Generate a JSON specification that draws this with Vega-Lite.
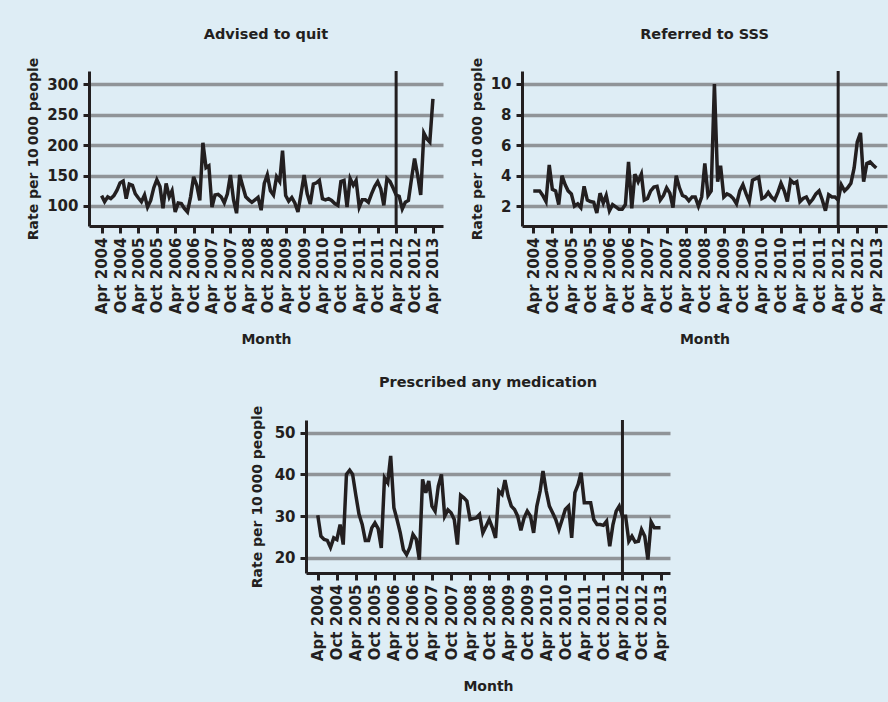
{
  "$schema": "https://vega.github.io/schema/vega-lite/v6.json",
  "background": "#deedf5",
  "padding": {"left": 26, "top": 26, "right": 1, "bottom": 12},
  "config": {
    "view": {"stroke": null},
    "font": "DejaVu Sans",
    "title": {"font": "DejaVu Sans", "fontSize": 14.5, "fontWeight": "bold", "color": "#231f20", "anchor": "middle", "frame": "group", "offset": 15},
    "axis": {
      "domainColor": "#231f20", "domainWidth": 3, "tickColor": "#231f20", "tickWidth": 3,
      "labelFont": "DejaVu Sans", "labelFontWeight": "bold", "labelFontSize": 15, "labelColor": "#231f20",
      "titleFont": "DejaVu Sans", "titleFontWeight": "bold", "titleFontSize": 14, "titleColor": "#231f20",
      "labelFlush": false, "labelOverlap": false
    },
    "axisX": {"grid": false, "labelAngle": -90, "tickSize": 7, "labelPadding": 4, "titlePadding": 19, "labelOverlap": false, "tickCount": 40},
    "axisY": {"grid": true, "gridColor": "#909498", "gridWidth": 3.5, "tickSize": 6, "labelPadding": 5, "titlePadding": 6}
  },
  "datasets": {
    "series": [
      {"date": "2004-04-01", "quit": 117, "sss": 3.0, "med": 30.2},
      {"date": "2004-05-01", "quit": 107, "sss": 3.0, "med": 25.2},
      {"date": "2004-06-01", "quit": 115, "sss": 3.0, "med": 24.4},
      {"date": "2004-07-01", "quit": 112, "sss": 2.7, "med": 24.2},
      {"date": "2004-08-01", "quit": 117, "sss": 2.3, "med": 22.5},
      {"date": "2004-09-01", "quit": 126, "sss": 4.7, "med": 24.8},
      {"date": "2004-10-01", "quit": 138, "sss": 3.1, "med": 24.4},
      {"date": "2004-11-01", "quit": 141, "sss": 3.0, "med": 28.0},
      {"date": "2004-12-01", "quit": 112, "sss": 2.1, "med": 23.2},
      {"date": "2005-01-01", "quit": 136, "sss": 4.0, "med": 40.0},
      {"date": "2005-02-01", "quit": 134, "sss": 3.4, "med": 41.0},
      {"date": "2005-03-01", "quit": 120, "sss": 3.0, "med": 40.0},
      {"date": "2005-04-01", "quit": 113, "sss": 2.8, "med": 35.0},
      {"date": "2005-05-01", "quit": 107, "sss": 2.0, "med": 30.5},
      {"date": "2005-06-01", "quit": 118, "sss": 2.15, "med": 28.0},
      {"date": "2005-07-01", "quit": 98, "sss": 1.9, "med": 24.2},
      {"date": "2005-08-01", "quit": 109, "sss": 3.3, "med": 24.2},
      {"date": "2005-09-01", "quit": 130, "sss": 2.4, "med": 27.2},
      {"date": "2005-10-01", "quit": 143, "sss": 2.3, "med": 28.4},
      {"date": "2005-11-01", "quit": 132, "sss": 2.25, "med": 27.0},
      {"date": "2005-12-01", "quit": 96, "sss": 1.55, "med": 22.4},
      {"date": "2006-01-01", "quit": 137, "sss": 2.85, "med": 39.2},
      {"date": "2006-02-01", "quit": 115, "sss": 2.2, "med": 38.0},
      {"date": "2006-03-01", "quit": 125, "sss": 2.7, "med": 44.4},
      {"date": "2006-04-01", "quit": 90, "sss": 1.7, "med": 32.0},
      {"date": "2006-05-01", "quit": 105, "sss": 2.1, "med": 29.2},
      {"date": "2006-06-01", "quit": 104, "sss": 1.95, "med": 26.0},
      {"date": "2006-07-01", "quit": 96, "sss": 1.8, "med": 22.0},
      {"date": "2006-08-01", "quit": 90, "sss": 1.8, "med": 20.8},
      {"date": "2006-09-01", "quit": 115, "sss": 2.1, "med": 22.5},
      {"date": "2006-10-01", "quit": 148, "sss": 4.9, "med": 25.6},
      {"date": "2006-11-01", "quit": 134, "sss": 1.85, "med": 24.5},
      {"date": "2006-12-01", "quit": 109, "sss": 4.1, "med": 19.6},
      {"date": "2007-01-01", "quit": 204, "sss": 3.6, "med": 38.8},
      {"date": "2007-02-01", "quit": 163, "sss": 4.1, "med": 35.6},
      {"date": "2007-03-01", "quit": 166, "sss": 2.4, "med": 38.4},
      {"date": "2007-04-01", "quit": 98, "sss": 2.5, "med": 32.4},
      {"date": "2007-05-01", "quit": 118, "sss": 3.0, "med": 31.2},
      {"date": "2007-06-01", "quit": 119, "sss": 3.25, "med": 37.2},
      {"date": "2007-07-01", "quit": 115, "sss": 3.3, "med": 40.0},
      {"date": "2007-08-01", "quit": 105, "sss": 2.4, "med": 30.0},
      {"date": "2007-09-01", "quit": 120, "sss": 2.7, "med": 31.5},
      {"date": "2007-10-01", "quit": 151, "sss": 3.2, "med": 30.8},
      {"date": "2007-11-01", "quit": 110, "sss": 2.85, "med": 29.2},
      {"date": "2007-12-01", "quit": 88, "sss": 1.9, "med": 23.2},
      {"date": "2008-01-01", "quit": 151, "sss": 4.0, "med": 35.0},
      {"date": "2008-02-01", "quit": 132, "sss": 3.2, "med": 34.4},
      {"date": "2008-03-01", "quit": 115, "sss": 2.7, "med": 33.6},
      {"date": "2008-04-01", "quit": 110, "sss": 2.6, "med": 29.2},
      {"date": "2008-05-01", "quit": 106, "sss": 2.35, "med": 29.4},
      {"date": "2008-06-01", "quit": 110, "sss": 2.6, "med": 29.6},
      {"date": "2008-07-01", "quit": 114, "sss": 2.6, "med": 30.4},
      {"date": "2008-08-01", "quit": 93, "sss": 2.0, "med": 26.0},
      {"date": "2008-09-01", "quit": 137, "sss": 2.6, "med": 27.6},
      {"date": "2008-10-01", "quit": 151, "sss": 4.8, "med": 29.2},
      {"date": "2008-11-01", "quit": 125, "sss": 2.7, "med": 27.2},
      {"date": "2008-12-01", "quit": 118, "sss": 3.0, "med": 24.8},
      {"date": "2009-01-01", "quit": 148, "sss": 10.0, "med": 36.0},
      {"date": "2009-02-01", "quit": 140, "sss": 3.6, "med": 35.2},
      {"date": "2009-03-01", "quit": 191, "sss": 4.65, "med": 38.6},
      {"date": "2009-04-01", "quit": 117, "sss": 2.6, "med": 34.8},
      {"date": "2009-05-01", "quit": 108, "sss": 2.8, "med": 32.4},
      {"date": "2009-06-01", "quit": 114, "sss": 2.7, "med": 31.6},
      {"date": "2009-07-01", "quit": 105, "sss": 2.5, "med": 30.0},
      {"date": "2009-08-01", "quit": 90, "sss": 2.15, "med": 26.6},
      {"date": "2009-09-01", "quit": 120, "sss": 3.0, "med": 29.6},
      {"date": "2009-10-01", "quit": 151, "sss": 3.4, "med": 31.2},
      {"date": "2009-11-01", "quit": 120, "sss": 2.8, "med": 30.0},
      {"date": "2009-12-01", "quit": 103, "sss": 2.3, "med": 26.0},
      {"date": "2010-01-01", "quit": 136, "sss": 3.7, "med": 32.4},
      {"date": "2010-02-01", "quit": 138, "sss": 3.8, "med": 36.0},
      {"date": "2010-03-01", "quit": 142, "sss": 3.9, "med": 40.8},
      {"date": "2010-04-01", "quit": 112, "sss": 2.5, "med": 36.0},
      {"date": "2010-05-01", "quit": 110, "sss": 2.6, "med": 32.4},
      {"date": "2010-06-01", "quit": 112, "sss": 2.9, "med": 30.8},
      {"date": "2010-07-01", "quit": 109, "sss": 2.6, "med": 29.2},
      {"date": "2010-08-01", "quit": 104, "sss": 2.4, "med": 26.8},
      {"date": "2010-09-01", "quit": 101, "sss": 2.9, "med": 29.2},
      {"date": "2010-10-01", "quit": 140, "sss": 3.5, "med": 31.6},
      {"date": "2010-11-01", "quit": 142, "sss": 3.0, "med": 32.4},
      {"date": "2010-12-01", "quit": 98, "sss": 2.3, "med": 24.8},
      {"date": "2011-01-01", "quit": 145, "sss": 3.7, "med": 35.6},
      {"date": "2011-02-01", "quit": 134, "sss": 3.5, "med": 37.6},
      {"date": "2011-03-01", "quit": 142, "sss": 3.6, "med": 40.4},
      {"date": "2011-04-01", "quit": 98, "sss": 2.3, "med": 33.2},
      {"date": "2011-05-01", "quit": 110, "sss": 2.5, "med": 33.2},
      {"date": "2011-06-01", "quit": 110, "sss": 2.6, "med": 33.2},
      {"date": "2011-07-01", "quit": 106, "sss": 2.2, "med": 29.2},
      {"date": "2011-08-01", "quit": 120, "sss": 2.45, "med": 28.0},
      {"date": "2011-09-01", "quit": 132, "sss": 2.8, "med": 28.0},
      {"date": "2011-10-01", "quit": 140, "sss": 3.0, "med": 27.8},
      {"date": "2011-11-01", "quit": 128, "sss": 2.4, "med": 28.8},
      {"date": "2011-12-01", "quit": 101, "sss": 1.7, "med": 22.8},
      {"date": "2012-01-01", "quit": 145, "sss": 2.75, "med": 28.0},
      {"date": "2012-02-01", "quit": 140, "sss": 2.6, "med": 31.2},
      {"date": "2012-03-01", "quit": 130, "sss": 2.6, "med": 32.4},
      {"date": "2012-04-01", "quit": 118, "sss": 2.4, "med": 30.0},
      {"date": "2012-05-01", "quit": 116, "sss": 3.4, "med": 30.0},
      {"date": "2012-06-01", "quit": 95, "sss": 3.0, "med": 24.0},
      {"date": "2012-07-01", "quit": 106, "sss": 3.2, "med": 25.2},
      {"date": "2012-08-01", "quit": 109, "sss": 3.5, "med": 23.8},
      {"date": "2012-09-01", "quit": 145, "sss": 4.5, "med": 24.0},
      {"date": "2012-10-01", "quit": 178, "sss": 6.2, "med": 26.8},
      {"date": "2012-11-01", "quit": 150, "sss": 6.8, "med": 25.2},
      {"date": "2012-12-01", "quit": 118, "sss": 3.6, "med": 19.6},
      {"date": "2013-01-01", "quit": 220, "sss": 4.8, "med": 28.6},
      {"date": "2013-02-01", "quit": 210, "sss": 4.9, "med": 27.2},
      {"date": "2013-03-01", "quit": 205, "sss": 4.7, "med": 27.2},
      {"date": "2013-04-01", "quit": 276, "sss": 4.5, "med": 27.2}
    ],
    "event": [{"date": "2012-04-01"}]
  },
  "resolve": {"scale": {"x": "independent", "y": "independent"}},
  "spacing": 27,
  "center": true,
  "vconcat": [
    {
      "spacing": 27,
      "resolve": {"scale": {"x": "independent", "y": "independent"}},
      "hconcat": [
        {
          "width": 354, "height": 155,
          "title": "Advised to quit",
          "layer": [
            {
              "data": {"name": "series"},
              "mark": {"type": "line", "color": "#231f20", "strokeWidth": 3.5},
              "encoding": {
                "x": {"field": "date", "type": "temporal",
                  "scale": {"type": "utc", "domain": [1069977600000, 1373414400000]},
                  "axis": {"title": "Month", "format": "%b %Y", "labelOverlap": false, "tickCount": 40, "values": [1080777600000, 1096588800000, 1112313600000, 1128124800000, 1143849600000, 1159660800000, 1175385600000, 1191196800000, 1207008000000, 1222819200000, 1238544000000, 1254355200000, 1270080000000, 1285891200000, 1301616000000, 1317427200000, 1333238400000, 1349049600000, 1364774400000]}},
                "y": {"field": "quit", "type": "quantitative",
                  "scale": {"domain": [67, 322], "nice": false, "zero": false},
                  "axis": {"title": "Rate per 10\u2009000 people", "values": [100, 150, 200, 250, 300]}}
              }
            },
            {
              "data": {"name": "event"},
              "mark": {"type": "rule", "color": "#231f20", "strokeWidth": 3},
              "encoding": {"x": {"field": "date", "type": "temporal"}}
            }
          ]
        },
        {
          "width": 365, "height": 155,
          "title": "Referred to SSS",
          "layer": [
            {
              "data": {"name": "series"},
              "mark": {"type": "line", "color": "#231f20", "strokeWidth": 3.5},
              "encoding": {
                "x": {"field": "date", "type": "temporal",
                  "scale": {"type": "utc", "domain": [1071446400000, 1373673600000]},
                  "axis": {"title": "Month", "format": "%b %Y", "labelOverlap": false, "tickCount": 40, "values": [1080777600000, 1096588800000, 1112313600000, 1128124800000, 1143849600000, 1159660800000, 1175385600000, 1191196800000, 1207008000000, 1222819200000, 1238544000000, 1254355200000, 1270080000000, 1285891200000, 1301616000000, 1317427200000, 1333238400000, 1349049600000, 1364774400000]}},
                "y": {"field": "sss", "type": "quantitative",
                  "scale": {"domain": [0.7, 10.85], "nice": false, "zero": false},
                  "axis": {"title": "Rate per 10\u2009000 people", "values": [2, 4, 6, 8, 10]}}
              }
            },
            {
              "data": {"name": "event"},
              "mark": {"type": "rule", "color": "#231f20", "strokeWidth": 3},
              "encoding": {"x": {"field": "date", "type": "temporal"}}
            }
          ]
        }
      ]
    },
    {
      "width": 364, "height": 153,
      "title": "Prescribed any medication",
      "layer": [
        {
          "data": {"name": "series"},
          "mark": {"type": "line", "color": "#231f20", "strokeWidth": 3.5},
          "encoding": {
            "x": {"field": "date", "type": "temporal",
              "scale": {"type": "utc", "domain": [1071014400000, 1372636800000]},
              "axis": {"title": "Month", "format": "%b %Y", "labelOverlap": false, "tickCount": 40, "values": [1080777600000, 1096588800000, 1112313600000, 1128124800000, 1143849600000, 1159660800000, 1175385600000, 1191196800000, 1207008000000, 1222819200000, 1238544000000, 1254355200000, 1270080000000, 1285891200000, 1301616000000, 1317427200000, 1333238400000, 1349049600000, 1364774400000]}},
            "y": {"field": "med", "type": "quantitative",
              "scale": {"domain": [16.4, 53], "nice": false, "zero": false},
              "axis": {"title": "Rate per 10\u2009000 people", "titlePadding": 10, "values": [20, 30, 40, 50]}}
          }
        },
        {
          "data": {"name": "event"},
          "mark": {"type": "rule", "color": "#231f20", "strokeWidth": 3},
          "encoding": {"x": {"field": "date", "type": "temporal"}}
        }
      ]
    }
  ]
}
